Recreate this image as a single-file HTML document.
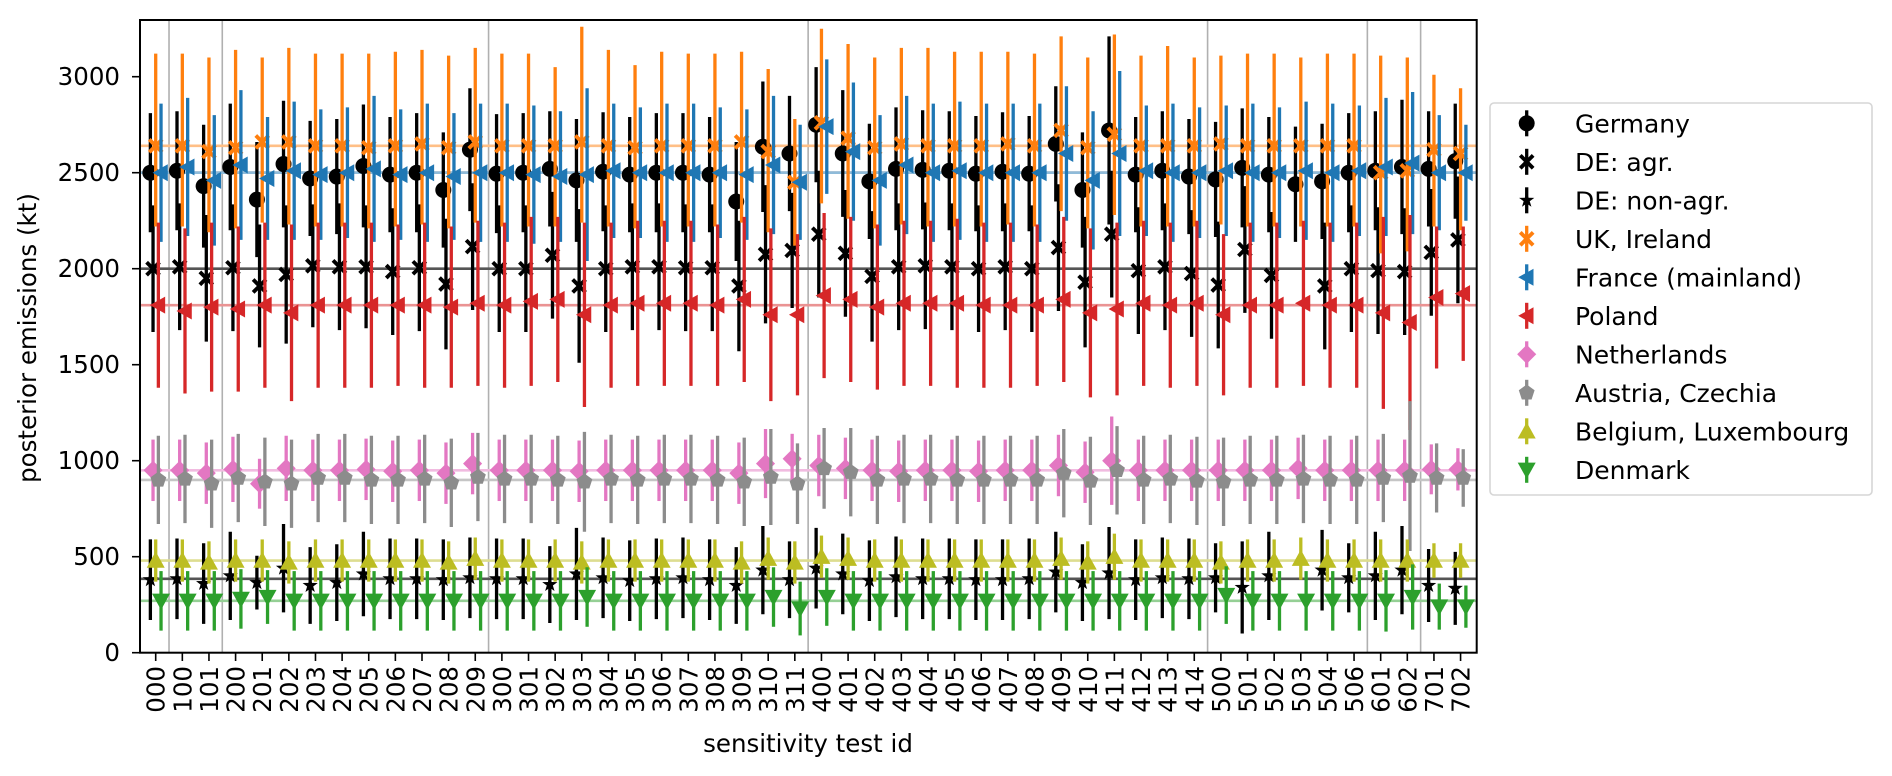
<!DOCTYPE html>
<html><head><meta charset="utf-8">
<style>
html,body{margin:0;padding:0;background:#fff;}
svg{display:block;font-family:"DejaVu Sans","Liberation Sans",sans-serif;}
</style></head>
<body>
<svg id="chart" width="1892" height="776" viewBox="0 0 1892 776" xmlns="http://www.w3.org/2000/svg">
  <g id="grid"></g>
  <g id="refs"></g>
  <g id="marks"></g>
  <rect x="140" y="20" width="1336.7" height="632.7" fill="none" stroke="#000" stroke-width="2"/>
  <g id="yaxis"></g>
  <g id="xaxis"></g>
  <text transform="translate(36,338) rotate(-90)" text-anchor="middle" font-size="24.5">posterior emissions (kt)</text>
  <text x="808" y="752" text-anchor="middle" font-size="24.5">sensitivity test id</text>
  <g id="legend"></g>
</svg>
<script>
const categories = ["000","100","101","200","201","202","203","204","205","206","207","208","209","300","301","302","303","304","305","306","307","308","309","310","311","400","401","402","403","404","405","406","407","408","409","410","411","412","413","414","500","501","502","503","504","506","601","602","701","702"];
const groupStarts = [1,3,13,25,40,46,48];
const yTicks = [0,500,1000,1500,2000,2500,3000];

const germany = [2500,2510,2430,2530,2360,2545,2470,2480,2535,2490,2500,2410,2620,2495,2500,2520,2460,2505,2490,2500,2500,2490,2350,2635,2600,2750,2600,2455,2520,2515,2510,2495,2505,2495,2650,2410,2720,2490,2510,2480,2465,2525,2490,2440,2455,2500,2510,2530,2520,2560];
const germanyErr = [310,310,320,330,300,330,300,300,320,300,310,300,320,310,310,300,320,310,300,310,310,300,310,340,300,300,330,300,320,310,310,300,310,300,300,300,490,300,310,300,300,310,300,300,300,310,310,350,300,300];
const deAgr = [2000,2010,1950,2005,1910,1970,2015,2010,2010,1985,2005,1920,2115,2000,2000,2070,1910,2000,2010,2010,2005,2005,1910,2075,2095,2180,2080,1960,2010,2015,2010,2000,2010,2000,2110,1930,2180,1990,2010,1975,1915,2100,1965,null,1910,2000,1990,1985,2085,2150];
const deAgrErr = [330,330,330,330,320,360,320,330,320,330,330,340,330,330,330,330,400,330,330,330,330,330,340,360,300,330,330,340,330,330,330,330,330,330,330,340,330,330,330,330,330,330,330,330,330,330,330,330,330,330];
const deNonAgr = [380,385,360,400,365,440,350,365,410,385,385,380,390,385,385,355,410,390,375,385,390,380,350,430,380,440,410,375,395,385,385,380,380,385,420,365,415,380,390,385,390,340,400,null,430,390,400,430,350,335];
const deNonAgrErr = [210,210,210,230,140,230,200,200,220,210,210,210,210,210,210,200,240,210,210,210,210,210,200,230,200,210,210,210,210,210,210,210,210,210,210,200,240,210,210,210,180,240,230,210,210,180,230,230,190,190];
const uk = [2640,2640,2610,2630,2660,2660,2640,2640,2630,2640,2650,2630,2660,2640,2640,2640,2660,2640,2630,2640,2640,2640,2660,2610,2450,2760,2680,2630,2650,2640,2640,2640,2650,2640,2720,2630,2700,2640,2640,2640,2650,2640,2640,2640,2640,2640,2500,2510,2620,2600];
const ukErrUp = [480,480,490,510,440,490,480,480,490,490,490,480,490,480,480,410,600,500,430,490,480,480,470,430,330,490,490,470,500,510,490,490,480,480,490,470,520,470,520,460,460,480,480,460,480,480,610,590,390,340];
const ukErrDown = [420,420,420,420,420,430,420,420,420,420,420,420,420,420,420,420,420,420,420,420,420,420,420,420,330,420,420,420,420,420,420,420,420,420,420,420,420,420,420,420,420,420,420,420,420,420,420,420,400,400];
const france = [2500,2530,2460,2540,2470,2510,2490,2500,2520,2490,2500,2480,2500,2500,2490,2480,2490,2510,2500,2500,2500,2500,2490,2540,2450,2740,2610,2460,2540,2500,2510,2500,2500,2500,2600,2460,2600,2510,2500,2500,2510,2500,2500,2510,2500,2510,2530,2550,2500,2500];
const franceErr = [360,360,340,390,320,360,340,340,380,340,360,330,360,360,360,340,450,350,340,360,360,340,340,360,300,350,360,340,360,360,360,360,360,360,350,360,430,340,360,340,340,360,340,360,360,340,360,370,300,250];
const poland = [1810,1780,1800,1790,1810,1770,1810,1810,1810,1810,1810,1800,1820,1810,1830,1840,1760,1810,1820,1820,1820,1810,1840,1760,1760,1860,1840,1800,1820,1820,1820,1810,1810,1810,1840,1770,1790,1820,1810,1820,1760,1810,1810,1820,1810,1810,1770,1720,1850,1870];
const polandErr = [430,430,440,430,430,460,430,430,430,420,430,420,430,430,440,430,480,430,430,430,430,420,430,450,420,430,430,430,430,430,440,430,430,420,430,440,450,430,430,430,420,430,430,430,430,430,500,560,370,350];
const netherlands = [950,950,935,955,880,960,950,950,955,945,950,935,985,950,950,950,945,950,950,950,950,950,935,985,1010,975,960,950,945,950,950,945,950,950,975,940,1000,950,950,950,950,950,950,960,950,950,950,950,955,955];
const netherlandsErr = [160,160,160,170,130,170,160,160,160,160,160,160,160,160,160,160,160,160,160,160,160,160,160,180,130,160,160,160,160,160,160,160,160,160,160,160,230,160,160,160,160,160,160,160,160,160,160,160,130,110];
const austria = [900,905,880,910,890,880,910,910,900,900,905,885,915,905,905,900,890,905,900,905,905,900,890,915,880,960,940,900,905,905,900,900,900,900,935,895,950,900,905,895,890,900,900,905,900,900,910,920,910,910];
const austriaErr = [230,230,230,230,230,230,230,230,230,230,230,230,230,230,230,230,260,230,230,230,230,230,230,250,210,210,230,230,230,230,230,230,230,230,230,230,230,230,230,230,230,230,230,230,230,230,230,390,180,150];
const belgium = [480,480,470,480,480,470,480,480,480,480,480,470,490,480,480,480,470,480,480,480,480,480,470,490,470,500,490,480,480,480,480,480,480,480,490,470,500,480,480,480,470,480,480,490,480,480,480,480,480,480];
const belgiumErr = [110,110,110,110,110,110,110,110,110,110,110,110,110,110,110,110,110,110,110,110,110,110,110,110,110,110,110,110,110,110,110,110,110,110,110,110,120,110,110,110,110,110,110,110,110,110,110,110,90,90];
const denmark = [270,270,270,280,290,270,270,270,270,270,270,270,270,270,270,270,290,270,270,270,270,270,270,290,230,290,270,270,270,270,270,270,270,270,270,270,270,270,270,270,300,270,270,270,270,270,270,290,240,240];
const denmarkErr = [155,155,155,155,140,155,155,155,155,155,155,155,155,155,155,155,155,155,155,155,155,155,155,155,140,150,155,155,155,155,155,155,155,155,155,155,155,155,155,155,150,155,155,155,155,155,160,170,120,110];

const refGermany = 2500, refDeAgr = 2000, refDeNonAgr = 385, refUk = 2640, refFrance = 2500, refPoland = 1810, refNl = 950, refAt = 900, refBe = 480, refDk = 270;

const NS = "http://www.w3.org/2000/svg";
const X0 = 155.7, DX = 26.63, Y0 = 652.7, KY = 0.192;
function xPos(i){ return X0 + i*DX; }
function yPos(v){ return Y0 - v*KY; }
function mk(tag, attrs, parent){
  const e = document.createElementNS(NS, tag);
  for (const k in attrs) e.setAttribute(k, attrs[k]);
  parent.appendChild(e);
  return e;
}
function markerPath(shape, cx, cy, r){
  switch(shape){
    case "o": return `M${cx-r},${cy}a${r},${r} 0 1,0 ${2*r},0a${r},${r} 0 1,0 ${-2*r},0Z`;
    case "X": { const a=r*0.35, b=r;
      const pts=[[-a,0],[-b,-b+a],[-b+a,-b],[0,-a],[b-a,-b],[b,-b+a],[a,0],[b,b-a],[b-a,b],[0,a],[-b+a,b],[-b,b-a]];
      return "M"+pts.map(q=>(cx+q[0])+","+(cy+q[1])).join("L")+"Z"; }
    case "*": { let s=""; for(let k=0;k<10;k++){ const ang=-Math.PI/2+k*Math.PI/5; const rr=k%2?r*0.4:r; s+=(k?"L":"M")+(cx+rr*Math.cos(ang))+","+(cy+rr*Math.sin(ang)); } return s+"Z"; }
    case "<": return `M${cx-r},${cy}L${cx+r*0.8},${cy-r}L${cx+r*0.8},${cy+r}Z`;
    case "D": return `M${cx},${cy-r*1.15}L${cx+r*1.15},${cy}L${cx},${cy+r*1.15}L${cx-r*1.15},${cy}Z`;
    case "p": { let s=""; for(let k=0;k<5;k++){ const ang=-Math.PI/2+k*2*Math.PI/5; s+=(k?"L":"M")+(cx+r*Math.cos(ang))+","+(cy+r*Math.sin(ang)); } return s+"Z"; }
    case "^": return `M${cx},${cy-r}L${cx+r},${cy+r*0.8}L${cx-r},${cy+r*0.8}Z`;
    case "v": return `M${cx},${cy+r}L${cx+r},${cy-r*0.8}L${cx-r},${cy-r*0.8}Z`;
  }
}

const grid = document.getElementById("grid");
groupStarts.forEach(g=>{
  const x = xPos(g-0.5);
  const l = mk("line",{x1:x,x2:x,y1:20,y2:652.7,stroke:"#b0b0b0","stroke-width":1.6},grid);
  
  
});

const series = [
  {name:"Germany", vals:germany, lo:germanyErr, hi:germanyErr, color:"#000000", shape:"o", r:8, off:-0.2, ref:refGermany, refColor:"#555555"},
  {name:"DE: agr.", vals:deAgr, lo:deAgrErr, hi:deAgrErr, color:"#000000", shape:"X", r:7.8, off:-0.1, ref:refDeAgr, refColor:"#555555"},
  {name:"DE: non-agr.", vals:deNonAgr, lo:deNonAgrErr, hi:deNonAgrErr, color:"#000000", shape:"*", r:8, off:-0.2, ref:refDeNonAgr, refColor:"#555555"},
  {name:"UK, Ireland", vals:uk, lo:ukErrDown, hi:ukErrUp, color:"#ff7f0e", shape:"X", r:7.8, off:0, ref:refUk, refColor:"#ffbf86"},
  {name:"France (mainland)", vals:france, lo:franceErr, hi:franceErr, color:"#1f77b4", shape:"<", r:8.5, off:0.2, ref:refFrance, refColor:"#8fbbd9"},
  {name:"Poland", vals:poland, lo:polandErr, hi:polandErr, color:"#d62728", shape:"<", r:8.5, off:0.1, ref:refPoland, refColor:"#ea9393"},
  {name:"Netherlands", vals:netherlands, lo:netherlandsErr, hi:netherlandsErr, color:"#e377c2", shape:"D", r:8.3, off:-0.1, ref:refNl, refColor:"#f1bbe0"},
  {name:"Austria, Czechia", vals:austria, lo:austriaErr, hi:austriaErr, color:"#8c8c8c", shape:"p", r:8.3, off:0.1, ref:refAt, refColor:"#c5c5c5"},
  {name:"Belgium, Luxembourg", vals:belgium, lo:belgiumErr, hi:belgiumErr, color:"#bcbd22", shape:"^", r:9, off:0, ref:refBe, refColor:"#dddd90"},
  {name:"Denmark", vals:denmark, lo:denmarkErr, hi:denmarkErr, color:"#2ca02c", shape:"v", r:9, off:0.2, ref:refDk, refColor:"#95cf95"}
];

const refs = document.getElementById("refs");
series.forEach(s=>{
  const y = yPos(s.ref);
  const l = mk("line",{x1:140,x2:1476.7,y1:y,y2:y,stroke:s.refColor,"stroke-width":2.6},refs);
  
  
});

const marks = document.getElementById("marks");
series.forEach(s=>{
  const g = mk("g",{},marks);
  
  
  s.vals.forEach((v,i)=>{
    if (v === null) return;
    const x = xPos(i + s.off);
    const bar = mk("line",{x1:x,x2:x,y1:yPos(v - s.lo[i]),y2:yPos(v + s.hi[i]),stroke:s.color,"stroke-width":3.3},g);
    
    
    const m = mk("path",{d:markerPath(s.shape,x,yPos(v),s.r),fill:s.color},g);
    
    
  });
});

const ya = document.getElementById("yaxis");
yTicks.forEach(t=>{
  const y = yPos(t);
  const tk = mk("line",{x1:132,x2:140,y1:y,y2:y,stroke:"#000","stroke-width":1.6},ya);
  
  
  const tx = mk("text",{x:120,y:y+8.5,"text-anchor":"end","font-size":24.5},ya);
  tx.textContent = t;
  
  
});

const xa = document.getElementById("xaxis");
categories.forEach((c,i)=>{
  const x = xPos(i);
  const tk = mk("line",{x1:x,x2:x,y1:652.7,y2:661,stroke:"#000","stroke-width":1.6},xa);
  
  
  const tx = mk("text",{transform:`translate(${x+9},666) rotate(-90)`,"text-anchor":"end","font-size":24.5},xa);
  tx.textContent = c;
  
  
});

const lg = document.getElementById("legend");
const box = mk("rect",{x:1490,y:103,width:382,height:392,rx:4,fill:"#fff",stroke:"#d6d6d6","stroke-width":1.6},lg);


series.forEach((s,k)=>{
  const y = 123.3 + k*38.5;
  const e = mk("g",{},lg);
  
  
  mk("line",{x1:1526.7,x2:1526.7,y1:y-13,y2:y+13,stroke:s.color,"stroke-width":3.3},e);
  mk("path",{d:markerPath(s.shape,1526.7,y,s.r),fill:s.color},e);
  const t = mk("text",{x:1575,y:y+9,"font-size":25,fill:"#000"},e);
  t.textContent = s.name;
  
  
});
</script>
</body></html>
